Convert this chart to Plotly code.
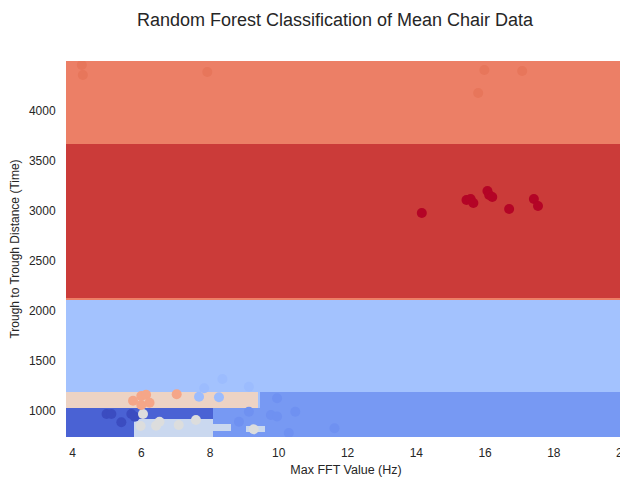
import plotly.graph_objects as go

# ---------------- data ----------------
title_text = "Random Forest Classification of Mean Chair Data"
x_label = "Max FFT Value (Hz)"
y_label = "Trough to Trough Distance (Time)"
x_ticks = [4, 6, 8, 10, 12, 14, 16, 18, 20]
y_ticks = [1000, 1500, 2000, 2500, 3000, 3500, 4000]
x_range = [3.81, 20.1]
y_range = [740, 4500]

# class names (ordered by colormap position)
classes = ["c0", "c1", "c2", "c3", "c4", "c5", "c6"]
# colour of the decision region for each class
region_colors = ["#4a62d4", "#7799f3", "#a3c2fe", "#cad8ef", "#edd3c4", "#ec7f66", "#cb3b39"]
# colour of the sample points for each class
point_colors = ["#3b4cc0", "#6f91f1", "#9cbcfe", "#dcdddd", "#f5a688", "#e7765b", "#b40426"]

# decision regions: x0, x1, y0, y1, class index (painted in order)
region_x0 = [3.81, 3.81, 3.81, 3.81, 9.45, 3.81, 8.10, 3.81, 5.80, 8.10, 9.05]
region_x1 = [20.1, 20.1, 20.1, 20.1, 20.1, 9.40, 9.45, 8.10, 8.10, 8.62, 9.60]
region_y0 = [740, 3670, 2135, 2110, 740, 1030, 740, 740, 740, 800, 790]
region_y1 = [4500, 4500, 3670, 2135, 1190, 1190, 1030, 1030, 920, 870, 850]
region_cls = [2, 5, 6, 5, 1, 4, 1, 0, 3, 3, 3]

# sample points
pts_x = {
    0: [4.99, 5.13, 5.42, 5.71, 5.81],
    1: [9.95, 9.13, 9.77, 9.95, 10.48, 8.84, 11.62, 10.29],
    2: [7.83, 8.36, 9.13, 7.68, 8.26],
    3: [6.05, 5.98, 6.43, 6.53, 7.09, 7.59, 9.27],
    4: [5.76, 6.00, 6.14, 6.24, 6.00, 7.03],
    5: [4.27, 4.30, 7.92, 15.98, 17.08, 15.80],
    6: [14.16, 15.46, 15.58, 15.66, 16.07, 16.12, 16.21, 16.70, 17.42, 17.54],
}
pts_y = {
    0: [970, 970, 887, 970, 943],
    1: [1127, 993, 960, 945, 993, 893, 827, 780],
    2: [1227, 1320, 1243, 1143, 1137],
    3: [970, 850, 853, 893, 860, 910, 817],
    4: [1103, 1150, 1163, 1083, 1060, 1167],
    5: [4460, 4360, 4390, 4410, 4400, 4180],
    6: [2980, 3110, 3120, 3080, 3200, 3160, 3140, 3020, 3120, 3050],
}

# ---------------- build region grid ----------------
xe = sorted(set(region_x0 + region_x1))
ye = sorted(set(region_y0 + region_y1))
z = []
for j in range(len(ye) - 1):
    yc = (ye[j] + ye[j + 1]) / 2
    row = []
    for i in range(len(xe) - 1):
        xc = (xe[i] + xe[i + 1]) / 2
        c = None
        for k in range(len(region_cls)):
            if region_x0[k] <= xc < region_x1[k] and region_y0[k] <= yc < region_y1[k]:
                c = region_cls[k]
        row.append(c)
    z.append(row)

n = len(classes)
cscale = []
for k, col in enumerate(region_colors):
    cscale.append([k / n, col])
    cscale.append([(k + 1) / n, col])

fig = go.Figure()
fig.add_trace(go.Heatmap(
    x=xe, y=ye, z=z, zmin=-0.5, zmax=n - 0.5,
    colorscale=cscale, showscale=False, hoverinfo="skip", zsmooth=False,
))

for k in range(n):
    if k in pts_x:
        fig.add_trace(go.Scatter(
            x=pts_x[k], y=pts_y[k], mode="markers",
            marker=dict(size=10, color=point_colors[k], line=dict(width=0)),
            showlegend=False, name=classes[k],
        ))

# the page body has an 8px margin; the figure is offset by it and clipped by the window
W, H = 628, 469
font_color = "#262626"
fig.update_layout(
    width=W, height=H,
    template=None,
    paper_bgcolor="white", plot_bgcolor="white",
    margin=dict(l=58, r=10, t=53, b=40, autoexpand=False),
    font=dict(family="Liberation Sans, Arial, sans-serif", color=font_color, size=12),
    title=dict(text=title_text, x=327 / W, xref="container", xanchor="center",
               y=1 - 12 / H, yref="container", yanchor="middle",
               font=dict(size=18, color=font_color)),
    showlegend=False,
)
fig.update_xaxes(
    range=x_range, tickvals=x_ticks, ticktext=[str(v) for v in x_ticks],
    showgrid=False, zeroline=False, showline=False,
    ticks="outside", ticklen=5, tickcolor="rgba(0,0,0,0)",
    tickfont=dict(size=12, color=font_color), ticklabeloverflow="allow",
    title=dict(text=x_label, font=dict(size=12.5, color=font_color), standoff=5),
    automargin=False,
)
fig.update_yaxes(
    range=y_range, tickvals=y_ticks, ticktext=[str(v) for v in y_ticks],
    showgrid=False, zeroline=False, showline=False,
    ticks="outside", ticklen=7, tickcolor="rgba(0,0,0,0)",
    tickfont=dict(size=12, color=font_color),
    title=dict(text=y_label, font=dict(size=12, color=font_color), standoff=7),
    automargin=False,
)

fig.write_html("out.html")
